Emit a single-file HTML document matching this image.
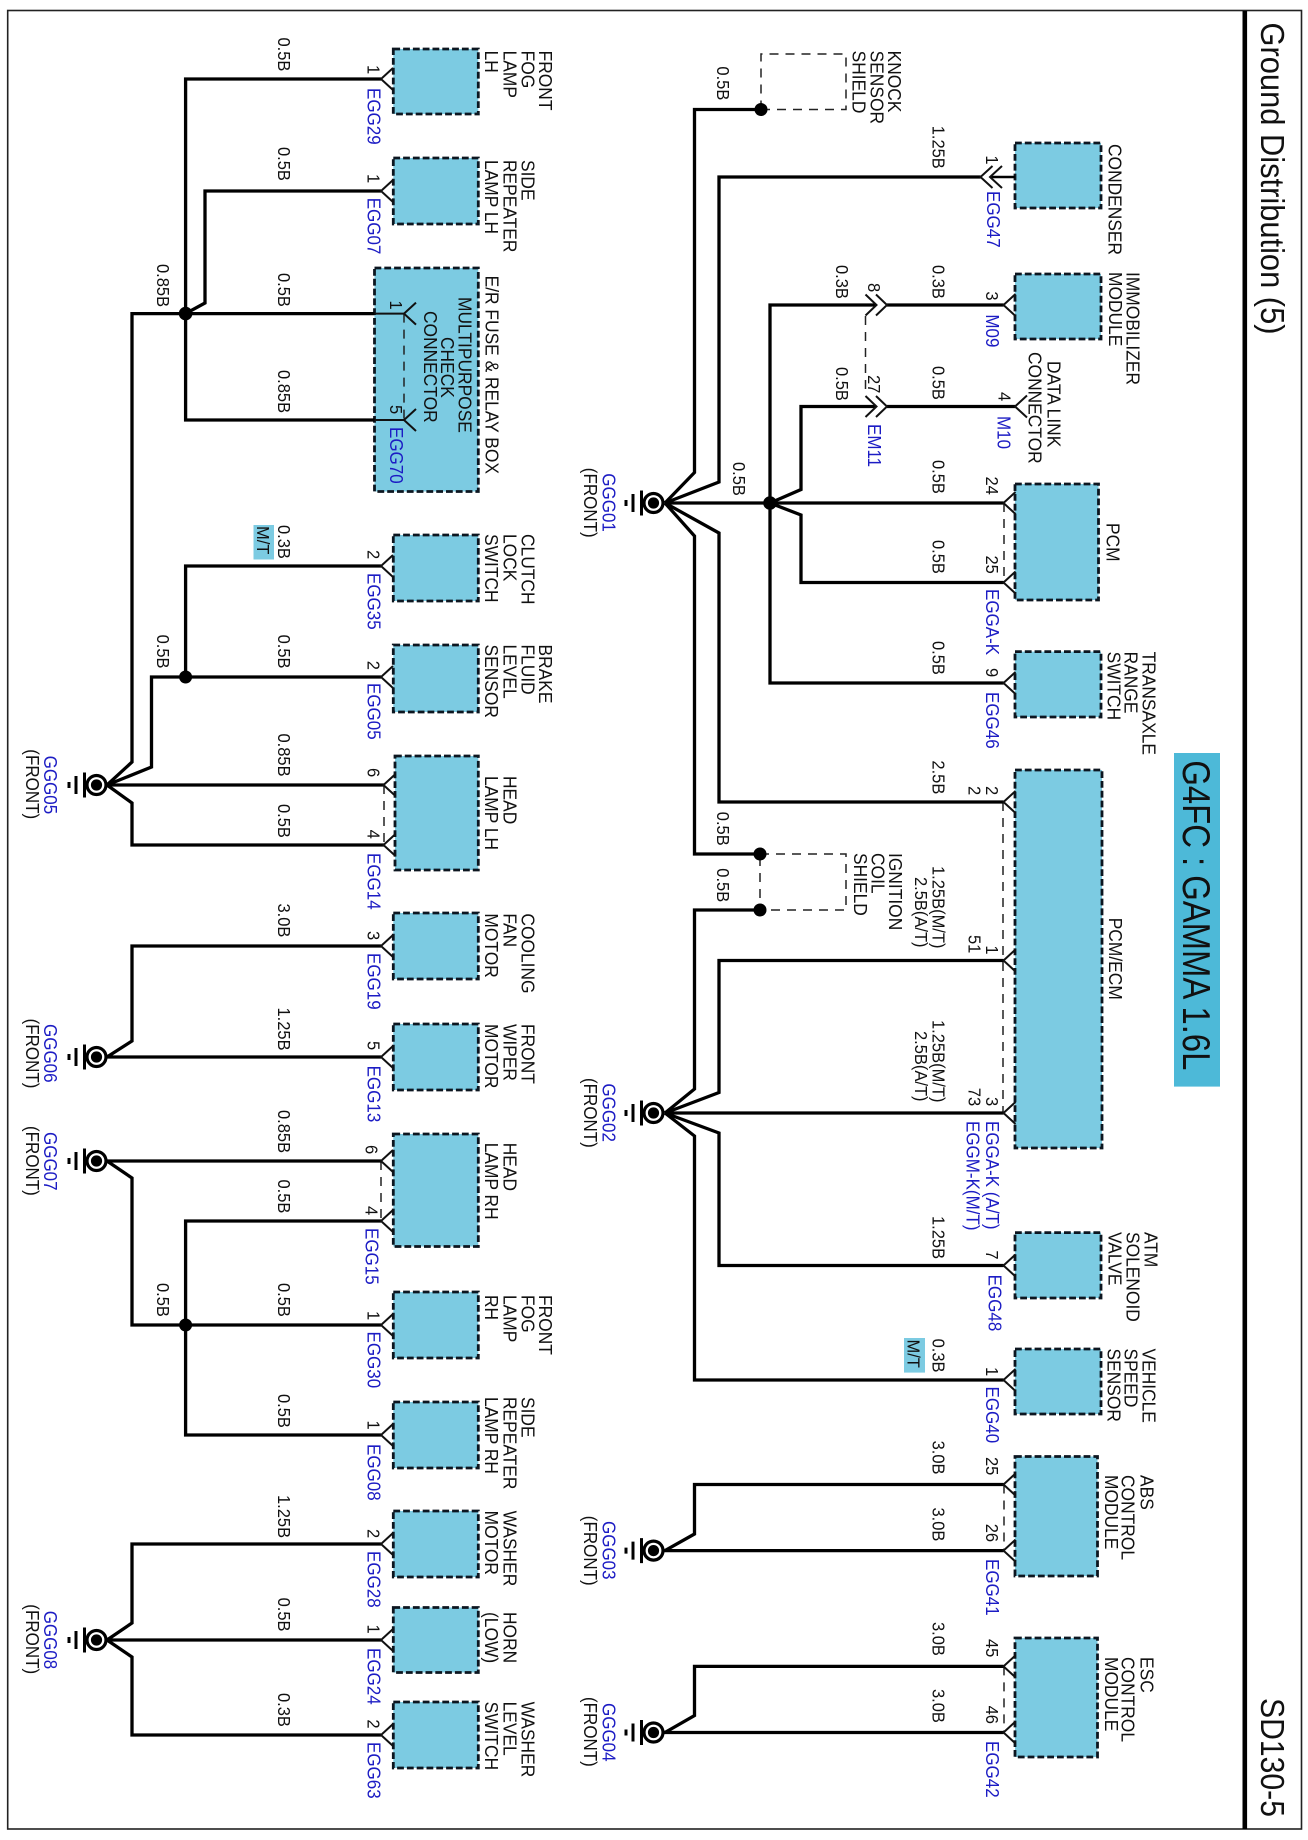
<!DOCTYPE html>
<html><head><meta charset="utf-8"><title>Ground Distribution (5)</title>
<style>
html,body{margin:0;padding:0;background:#fff}
svg{display:block}
text{font-family:"Liberation Sans",Arial,sans-serif;fill:#111}
.w{font-size:16.5px}
.p{font-size:16.5px}
.n{font-size:17.4px}
.b{font-size:17px;fill:#1c1cc4}
.f{font-size:17px}
.box{fill:#7ccbe2;stroke:#0c1620;stroke-width:2.8;stroke-dasharray:6.8 3}
.wire{fill:none;stroke:#000;stroke-width:3.3;stroke-linejoin:miter}
.thin{fill:none;stroke:#111;stroke-width:2}
.dash{fill:none;stroke:#222;stroke-width:1.5;stroke-dasharray:9 7}
</style></head><body>
<svg xmlns="http://www.w3.org/2000/svg" width="1308" height="1840" viewBox="0 0 1308 1840">
<defs>
<path id="t" class="thin" d="M12 -11L0 0L12 11"/>
<path id="c" class="thin" d="M-11 -10.5L0 0L-11 10.5"/>
<g id="g"><circle r="9.5" fill="#fff" stroke="#000" stroke-width="3.2"/><circle r="5.6" fill="#000"/>
<path d="M-12 -12.5V12.5M-20.5 -9V9M-27.5 -3V3" stroke="#000" stroke-width="3" fill="none"/></g>
</defs>
<rect width="1308" height="1840" fill="#fff"/>
<rect x="7.7" y="10.5" width="1293.8" height="1818.5" fill="none" stroke="#222" stroke-width="1.6"/>
<rect x="1242.5" y="11" width="4.6" height="1818" fill="#000"/>

<!-- boxes -->
<rect class="box" x="393.3" y="49" width="85" height="65"/>
<rect class="box" x="393.3" y="158" width="85" height="66"/>
<rect class="box" x="374.5" y="268" width="103.8" height="223.5"/>
<rect class="box" x="393.3" y="535" width="85" height="66"/>
<rect class="box" x="393.3" y="645" width="85" height="67"/>
<rect class="box" x="395" y="756" width="83.3" height="114"/>
<rect class="box" x="393.3" y="913" width="85" height="66"/>
<rect class="box" x="393.3" y="1024" width="85" height="66"/>
<rect class="box" x="393.3" y="1134" width="85" height="112.5"/>
<rect class="box" x="393.3" y="1292" width="85" height="66"/>
<rect class="box" x="393.3" y="1402" width="85" height="66"/>
<rect class="box" x="393.3" y="1511" width="85" height="66"/>
<rect class="box" x="393.3" y="1607.5" width="85" height="65"/>
<rect class="box" x="393.3" y="1702" width="85" height="66"/>
<rect class="box" x="1015" y="143" width="86" height="65"/>
<rect class="box" x="1015" y="274" width="86" height="65"/>
<rect class="box" x="1015" y="484" width="83.5" height="116"/>
<rect class="box" x="1015" y="651.6" width="86" height="65.4"/>
<rect class="box" x="1015" y="770" width="87" height="378"/>
<rect class="box" x="1015" y="1232.6" width="86" height="65.4"/>
<rect class="box" x="1015" y="1349" width="86" height="65"/>
<rect class="box" x="1015" y="1456.5" width="82.5" height="119.5"/>
<rect class="box" x="1015" y="1638" width="82.5" height="119"/>

<!-- badges -->
<rect x="1174" y="753" width="46" height="333.6" fill="#4db9d8"/>
<rect x="253.5" y="525" width="20.5" height="34.5" fill="#7ccbe2"/>
<rect x="904" y="1338" width="21" height="34.6" fill="#7ccbe2"/>

<!-- dashed -->
<path class="dash" d="M404 313.6V420M384 785V845M381 1161V1221"/>
<path class="dash" d="M761 109.5V54H846V109.5H761"/>
<path class="dash" d="M760 854H846V910H760V854"/>
<path class="dash" d="M865.5 316V395M1004 503V582.5M1003 802V1113M1004 1484.5V1550.6M1004 1666.4V1732.5"/>

<!-- wires left -->
<path class="wire" d="M381 79H185.6V420H374.5"/>
<path class="wire" d="M381 191H205V303L185.6 313.6"/>
<path class="wire" d="M374.5 313.6H132V762L107 785"/>
<path class="wire" d="M107 785L151.5 767V677H381"/>
<path class="wire" d="M107 785H384"/>
<path class="wire" d="M107 785L132 803V845H384"/>
<path class="wire" d="M381 566H185.6V677"/>
<path class="wire" d="M381 946H132V1041L107 1057H381"/>
<path class="wire" d="M107 1161H381"/>
<path class="wire" d="M107 1161L132 1178V1325H381"/>
<path class="wire" d="M381 1221H185.6V1435H381"/>
<path class="wire" d="M381 1544H132V1623L107 1640H381"/>
<path class="wire" d="M107 1640L132 1657V1735H381"/>
<!-- wires right -->
<path class="wire" d="M665 503L694.5 472.5V109.5H761"/>
<path class="wire" d="M665 503L719 482V177H980.5"/>
<path class="wire" d="M665 503H1003.5"/>
<path class="wire" d="M665 503L694.5 536V854H760"/>
<path class="wire" d="M665 503L719 533V802H1003.5"/>
<path class="wire" d="M876 305H770V683H1003.5"/>
<path class="wire" d="M887 305H1003.5"/>
<path class="wire" d="M770 503L801 489.5V406.5H876"/>
<path class="wire" d="M887 406.5H1015"/>
<path class="wire" d="M770 503L801 515V582.5H1003.5"/>
<path class="wire" d="M665 1113L694.5 1089V910H760"/>
<path class="wire" d="M665 1113L719 1092.5V960.5H1003.5"/>
<path class="wire" d="M665 1113H1003.5"/>
<path class="wire" d="M665 1113L694.5 1136V1380H1003.5"/>
<path class="wire" d="M665 1113L719 1133V1265.5H1003.5"/>
<path class="wire" d="M1003.5 1484.5H694.5V1534L665 1550.6H1003.5"/>
<path class="wire" d="M1003.5 1666.4H694.5V1715.5L665 1732.5H1003.5"/>
<path class="wire" d="M990 177H1015" style="stroke-width:2.4"/>
<path class="thin" d="M374.5 313.6H404M374.5 420H404"/>

<!-- connector marks -->
<use href="#t" x="381" y="79"/><use href="#t" x="381" y="191"/><use href="#t" x="381" y="566"/><use href="#t" x="381" y="677"/>
<use href="#t" x="383.5" y="785"/><use href="#t" x="383.5" y="845"/><use href="#t" x="381" y="946"/><use href="#t" x="381" y="1057"/>
<use href="#t" x="381" y="1161"/><use href="#t" x="381" y="1221"/><use href="#t" x="381" y="1325"/><use href="#t" x="381" y="1435"/>
<use href="#t" x="381" y="1544"/><use href="#t" x="381" y="1640"/><use href="#t" x="381" y="1735"/>
<use href="#t" x="404" y="313.6"/><use href="#t" x="404" y="420"/>
<use href="#t" x="980.5" y="177"/><use href="#t" x="990" y="177"/>
<use href="#c" x="876.5" y="305"/><use href="#c" x="887" y="305"/><use href="#c" x="876.5" y="406.5"/><use href="#c" x="887" y="406.5"/>
<use href="#t" x="1003.5" y="305"/><use href="#t" x="1015" y="406.5"/>
<use href="#t" x="1003.5" y="503"/><use href="#t" x="1003.5" y="582.5"/><use href="#t" x="1003.5" y="683"/>
<use href="#t" x="1003.5" y="802"/><use href="#t" x="1003.5" y="960.5"/><use href="#t" x="1003.5" y="1113"/>
<use href="#t" x="1003.5" y="1265.5"/><use href="#t" x="1003.5" y="1380"/><use href="#t" x="1003.5" y="1484.5"/><use href="#t" x="1003.5" y="1550.6"/>
<use href="#t" x="1003.5" y="1666.4"/><use href="#t" x="1003.5" y="1732.5"/>

<!-- junctions -->
<circle cx="185.6" cy="313.6" r="6.8"/><circle cx="185.6" cy="677" r="6.5"/><circle cx="185.6" cy="1325" r="6.5"/>
<circle cx="761" cy="109.5" r="6.5"/><circle cx="770" cy="503" r="6.8"/><circle cx="760" cy="854" r="6.5"/><circle cx="760" cy="910" r="6.5"/>

<!-- grounds -->
<use href="#g" x="96.5" y="785"/><use href="#g" x="96.5" y="1057"/><use href="#g" x="96.5" y="1161"/><use href="#g" x="96.5" y="1640"/>
<use href="#g" x="653.5" y="503"/><use href="#g" x="653.5" y="1113"/><use href="#g" x="653.5" y="1550.6"/><use href="#g" x="653.5" y="1732.5"/>

<!-- titles -->
<text transform="translate(1261 22.5)rotate(90)" style="font-size:33px" textLength="312" lengthAdjust="spacingAndGlyphs">Ground Distribution (5)</text>
<text transform="translate(1261 1698)rotate(90)" style="font-size:33px" textLength="119" lengthAdjust="spacingAndGlyphs">SD130-5</text>
<text transform="translate(1183 760.4)rotate(90)" style="font-size:39px" textLength="310" lengthAdjust="spacingAndGlyphs">G4FC : GAMMA 1.6L</text>

<g transform="translate(0.7 0)">
<!-- wire sizes left -->
<text class="w" transform="translate(277.3 37.5)rotate(90)scale(1 1.08)">0.5B</text>
<text class="w" transform="translate(277.3 147)rotate(90)scale(1 1.08)">0.5B</text>
<text class="w" transform="translate(277.3 273)rotate(90)scale(1 1.08)">0.5B</text>
<text class="w" transform="translate(277.3 370)rotate(90)scale(1 1.08)">0.85B</text>
<text class="w" transform="translate(277.3 525)rotate(90)scale(1 1.08)">0.3B</text>
<text class="w" transform="translate(256.5 526)rotate(90)scale(1 1.08)">M/T</text>
<text class="w" transform="translate(156.4 264)rotate(90)scale(1 1.08)">0.85B</text>
<text class="w" transform="translate(156.4 634.6)rotate(90)scale(1 1.08)">0.5B</text>
<text class="w" transform="translate(277.3 634.6)rotate(90)scale(1 1.08)">0.5B</text>
<text class="w" transform="translate(277.3 733.5)rotate(90)scale(1 1.08)">0.85B</text>
<text class="w" transform="translate(277.3 804)rotate(90)scale(1 1.08)">0.5B</text>
<text class="w" transform="translate(277.3 903.5)rotate(90)scale(1 1.08)">3.0B</text>
<text class="w" transform="translate(277.3 1007.5)rotate(90)scale(1 1.08)">1.25B</text>
<text class="w" transform="translate(277.3 1110)rotate(90)scale(1 1.08)">0.85B</text>
<text class="w" transform="translate(277.3 1179.5)rotate(90)scale(1 1.08)">0.5B</text>
<text class="w" transform="translate(156.4 1283)rotate(90)scale(1 1.08)">0.5B</text>
<text class="w" transform="translate(277.3 1283)rotate(90)scale(1 1.08)">0.5B</text>
<text class="w" transform="translate(277.3 1394)rotate(90)scale(1 1.08)">0.5B</text>
<text class="w" transform="translate(277.3 1495)rotate(90)scale(1 1.08)">1.25B</text>
<text class="w" transform="translate(277.3 1597.6)rotate(90)scale(1 1.08)">0.5B</text>
<text class="w" transform="translate(277.3 1693)rotate(90)scale(1 1.08)">0.3B</text>
</g>

<g transform="translate(1.3 0)">
<!-- pins left -->
<text class="p" transform="translate(366 65)rotate(90)scale(1 1.08)">1</text>
<text class="p" transform="translate(366 174)rotate(90)scale(1 1.08)">1</text>
<text class="p" transform="translate(388.6 300.5)rotate(90)scale(1 1.08)">1</text>
<text class="p" transform="translate(388.6 405)rotate(90)scale(1 1.08)">5</text>
<text class="p" transform="translate(366 550)rotate(90)scale(1 1.08)">2</text>
<text class="p" transform="translate(366 660.7)rotate(90)scale(1 1.08)">2</text>
<text class="p" transform="translate(366 768)rotate(90)scale(1 1.08)">6</text>
<text class="p" transform="translate(366 829.6)rotate(90)scale(1 1.08)">4</text>
<text class="p" transform="translate(366 931)rotate(90)scale(1 1.08)">3</text>
<text class="p" transform="translate(366 1041)rotate(90)scale(1 1.08)">5</text>
<text class="p" transform="translate(364 1145)rotate(90)scale(1 1.08)">6</text>
<text class="p" transform="translate(364 1206)rotate(90)scale(1 1.08)">4</text>
<text class="p" transform="translate(366 1311)rotate(90)scale(1 1.08)">1</text>
<text class="p" transform="translate(366 1420.5)rotate(90)scale(1 1.08)">1</text>
<text class="p" transform="translate(366 1529)rotate(90)scale(1 1.08)">2</text>
<text class="p" transform="translate(366 1624.5)rotate(90)scale(1 1.08)">1</text>
<text class="p" transform="translate(366 1719.4)rotate(90)scale(1 1.08)">2</text>

<!-- blue left -->
<text class="b" transform="translate(366 88)rotate(90)scale(1 1.08)">EGG29</text>
<text class="b" transform="translate(366 197.7)rotate(90)scale(1 1.08)">EGG07</text>
<text class="b" transform="translate(388.6 427)rotate(90)scale(1 1.08)">EGG70</text>
<text class="b" transform="translate(366 573)rotate(90)scale(1 1.08)">EGG35</text>
<text class="b" transform="translate(366 683)rotate(90)scale(1 1.08)">EGG05</text>
<text class="b" transform="translate(366 853)rotate(90)scale(1 1.08)">EGG14</text>
<text class="b" transform="translate(366 953)rotate(90)scale(1 1.08)">EGG19</text>
<text class="b" transform="translate(366 1065.6)rotate(90)scale(1 1.08)">EGG13</text>
<text class="b" transform="translate(364 1228)rotate(90)scale(1 1.08)">EGG15</text>
<text class="b" transform="translate(366 1331.5)rotate(90)scale(1 1.08)">EGG30</text>
<text class="b" transform="translate(366 1444)rotate(90)scale(1 1.08)">EGG08</text>
<text class="b" transform="translate(366 1551)rotate(90)scale(1 1.08)">EGG28</text>
<text class="b" transform="translate(366 1648)rotate(90)scale(1 1.08)">EGG24</text>
<text class="b" transform="translate(366 1742)rotate(90)scale(1 1.08)">EGG63</text>
</g>

<g transform="translate(0.8 0)">
<!-- names left -->
<text class="n" transform="translate(538 50.6)rotate(90)scale(1 1.08)">FRONT</text>
<text class="n" transform="translate(520.5 50.6)rotate(90)scale(1 1.08)">FOG</text>
<text class="n" transform="translate(502.5 50.6)rotate(90)scale(1 1.08)">LAMP</text>
<text class="n" transform="translate(484 50.6)rotate(90)scale(1 1.08)">LH</text>
<text class="n" transform="translate(520.5 160)rotate(90)scale(1 1.08)">SIDE</text>
<text class="n" transform="translate(502.5 160)rotate(90)scale(1 1.08)">REPEATER</text>
<text class="n" transform="translate(484 160)rotate(90)scale(1 1.08)">LAMP LH</text>
<text class="n" transform="translate(484.6 275.6)rotate(90)scale(1 1.08)">E/R FUSE &amp; RELAY BOX</text>
<text class="n" transform="translate(457.5 297)rotate(90)scale(1 1.08)">MULTIPURPOSE</text>
<text class="n" transform="translate(440 337)rotate(90)scale(1 1.08)">CHECK</text>
<text class="n" transform="translate(423 311)rotate(90)scale(1 1.08)">CONNECTOR</text>
<text class="n" transform="translate(520.5 534)rotate(90)scale(1 1.08)">CLUTCH</text>
<text class="n" transform="translate(502.5 534)rotate(90)scale(1 1.08)">LOCK</text>
<text class="n" transform="translate(484 534)rotate(90)scale(1 1.08)">SWITCH</text>
<text class="n" transform="translate(538 644.5)rotate(90)scale(1 1.08)">BRAKE</text>
<text class="n" transform="translate(520.5 644.5)rotate(90)scale(1 1.08)">FLUID</text>
<text class="n" transform="translate(502.5 644.5)rotate(90)scale(1 1.08)">LEVEL</text>
<text class="n" transform="translate(484 644.5)rotate(90)scale(1 1.08)">SENSOR</text>
<text class="n" transform="translate(502.5 776)rotate(90)scale(1 1.08)">HEAD</text>
<text class="n" transform="translate(484 776)rotate(90)scale(1 1.08)">LAMP LH</text>
<text class="n" transform="translate(520.5 913.4)rotate(90)scale(1 1.08)">COOLING</text>
<text class="n" transform="translate(502.5 913.4)rotate(90)scale(1 1.08)">FAN</text>
<text class="n" transform="translate(484 913.4)rotate(90)scale(1 1.08)">MOTOR</text>
<text class="n" transform="translate(520.5 1024)rotate(90)scale(1 1.08)">FRONT</text>
<text class="n" transform="translate(502.5 1024)rotate(90)scale(1 1.08)">WIPER</text>
<text class="n" transform="translate(484 1024)rotate(90)scale(1 1.08)">MOTOR</text>
<text class="n" transform="translate(502.5 1142.7)rotate(90)scale(1 1.08)">HEAD</text>
<text class="n" transform="translate(484 1142.7)rotate(90)scale(1 1.08)">LAMP RH</text>
<text class="n" transform="translate(538 1295)rotate(90)scale(1 1.08)">FRONT</text>
<text class="n" transform="translate(520.5 1295)rotate(90)scale(1 1.08)">FOG</text>
<text class="n" transform="translate(502.5 1295)rotate(90)scale(1 1.08)">LAMP</text>
<text class="n" transform="translate(484 1295)rotate(90)scale(1 1.08)">RH</text>
<text class="n" transform="translate(520.5 1397)rotate(90)scale(1 1.08)">SIDE</text>
<text class="n" transform="translate(502.5 1397)rotate(90)scale(1 1.08)">REPEATER</text>
<text class="n" transform="translate(484 1397)rotate(90)scale(1 1.08)">LAMP RH</text>
<text class="n" transform="translate(502.5 1510.6)rotate(90)scale(1 1.08)">WASHER</text>
<text class="n" transform="translate(484 1510.6)rotate(90)scale(1 1.08)">MOTOR</text>
<text class="n" transform="translate(502.5 1612)rotate(90)scale(1 1.08)">HORN</text>
<text class="n" transform="translate(484 1612)rotate(90)scale(1 1.08)">(LOW)</text>
<text class="n" transform="translate(520.5 1701.6)rotate(90)scale(1 1.08)">WASHER</text>
<text class="n" transform="translate(502.5 1701.6)rotate(90)scale(1 1.08)">LEVEL</text>
<text class="n" transform="translate(484 1701.6)rotate(90)scale(1 1.08)">SWITCH</text>
</g>

<!-- ground labels -->
<text class="b" transform="translate(44 755.6)rotate(90)scale(1 1.08)">GGG05</text>
<text class="f" transform="translate(26 749.3)rotate(90)scale(1 1.08)">(FRONT)</text>
<text class="b" transform="translate(44 1024)rotate(90)scale(1 1.08)">GGG06</text>
<text class="f" transform="translate(26 1018.6)rotate(90)scale(1 1.08)">(FRONT)</text>
<text class="b" transform="translate(44 1132)rotate(90)scale(1 1.08)">GGG07</text>
<text class="f" transform="translate(26 1126)rotate(90)scale(1 1.08)">(FRONT)</text>
<text class="b" transform="translate(44 1610.7)rotate(90)scale(1 1.08)">GGG08</text>
<text class="f" transform="translate(26 1604.3)rotate(90)scale(1 1.08)">(FRONT)</text>
<text class="b" transform="translate(602.6 473.3)rotate(90)scale(1 1.08)">GGG01</text>
<text class="f" transform="translate(584 467.8)rotate(90)scale(1 1.08)">(FRONT)</text>
<text class="b" transform="translate(602.6 1083.4)rotate(90)scale(1 1.08)">GGG02</text>
<text class="f" transform="translate(584 1078)rotate(90)scale(1 1.08)">(FRONT)</text>
<text class="b" transform="translate(602.6 1521)rotate(90)scale(1 1.08)">GGG03</text>
<text class="f" transform="translate(584 1515.8)rotate(90)scale(1 1.08)">(FRONT)</text>
<text class="b" transform="translate(602.6 1703)rotate(90)scale(1 1.08)">GGG04</text>
<text class="f" transform="translate(584 1697)rotate(90)scale(1 1.08)">(FRONT)</text>

<g transform="translate(0.5 0)">
<!-- wire sizes right -->
<text class="w" transform="translate(716.6 66.4)rotate(90)scale(1 1.08)">0.5B</text>
<text class="w" transform="translate(932 125.7)rotate(90)scale(1 1.08)">1.25B</text>
<text class="w" transform="translate(835.4 265)rotate(90)scale(1 1.08)">0.3B</text>
<text class="w" transform="translate(932 265)rotate(90)scale(1 1.08)">0.3B</text>
<text class="w" transform="translate(835.4 367)rotate(90)scale(1 1.08)">0.5B</text>
<text class="w" transform="translate(932 366)rotate(90)scale(1 1.08)">0.5B</text>
<text class="w" transform="translate(732.4 462)rotate(90)scale(1 1.08)">0.5B</text>
<text class="w" transform="translate(932 460)rotate(90)scale(1 1.08)">0.5B</text>
<text class="w" transform="translate(932 540)rotate(90)scale(1 1.08)">0.5B</text>
<text class="w" transform="translate(932 641)rotate(90)scale(1 1.08)">0.5B</text>
<text class="w" transform="translate(932 760.4)rotate(90)scale(1 1.08)">2.5B</text>
<text class="w" transform="translate(716.6 811.8)rotate(90)scale(1 1.08)">0.5B</text>
<text class="w" transform="translate(716.6 868.3)rotate(90)scale(1 1.08)">0.5B</text>
<text class="w" transform="translate(932 866)rotate(90)scale(1 1.08)">1.25B(M/T)</text>
<text class="w" transform="translate(914.6 877)rotate(90)scale(1 1.08)">2.5B(A/T)</text>
<text class="w" transform="translate(932 1020)rotate(90)scale(1 1.08)">1.25B(M/T)</text>
<text class="w" transform="translate(914.6 1031)rotate(90)scale(1 1.08)">2.5B(A/T)</text>
<text class="w" transform="translate(932 1216)rotate(90)scale(1 1.08)">1.25B</text>
<text class="w" transform="translate(932 1338.6)rotate(90)scale(1 1.08)">0.3B</text>
<text class="w" transform="translate(907 1339.5)rotate(90)scale(1 1.08)">M/T</text>
<text class="w" transform="translate(932 1440.6)rotate(90)scale(1 1.08)">3.0B</text>
<text class="w" transform="translate(932 1507.5)rotate(90)scale(1 1.08)">3.0B</text>
<text class="w" transform="translate(932 1622)rotate(90)scale(1 1.08)">3.0B</text>
<text class="w" transform="translate(932 1689)rotate(90)scale(1 1.08)">3.0B</text>
</g>

<g transform="translate(0.7 0)">
<!-- pins right -->
<text class="p" transform="translate(985.5 155.4)rotate(90)scale(1 1.08)">1</text>
<text class="p" transform="translate(985.5 291.4)rotate(90)scale(1 1.08)">3</text>
<text class="p" transform="translate(998 392)rotate(90)scale(1 1.08)">4</text>
<text class="p" transform="translate(867.5 283)rotate(90)scale(1 1.08)">8</text>
<text class="p" transform="translate(867.5 375)rotate(90)scale(1 1.08)">27</text>
<text class="p" transform="translate(985.5 476.5)rotate(90)scale(1 1.08)">24</text>
<text class="p" transform="translate(985.5 555.5)rotate(90)scale(1 1.08)">25</text>
<text class="p" transform="translate(985.5 668)rotate(90)scale(1 1.08)">9</text>
<text class="p" transform="translate(985.5 786)rotate(90)scale(1 1.08)">2</text>
<text class="p" transform="translate(967.6 786)rotate(90)scale(1 1.08)">2</text>
<text class="p" transform="translate(985.5 945.4)rotate(90)scale(1 1.08)">1</text>
<text class="p" transform="translate(967.6 935)rotate(90)scale(1 1.08)">51</text>
<text class="p" transform="translate(985.5 1097)rotate(90)scale(1 1.08)">3</text>
<text class="p" transform="translate(967.6 1087.8)rotate(90)scale(1 1.08)">73</text>
<text class="p" transform="translate(985.5 1250.4)rotate(90)scale(1 1.08)">7</text>
<text class="p" transform="translate(985.5 1367)rotate(90)scale(1 1.08)">1</text>
<text class="p" transform="translate(985.5 1457)rotate(90)scale(1 1.08)">25</text>
<text class="p" transform="translate(985.5 1523.7)rotate(90)scale(1 1.08)">26</text>
<text class="p" transform="translate(985.5 1639)rotate(90)scale(1 1.08)">45</text>
<text class="p" transform="translate(985.5 1705.6)rotate(90)scale(1 1.08)">46</text>

<!-- blue right -->
<text class="b" transform="translate(986.4 191)rotate(90)scale(1 1.08)">EGG47</text>
<text class="b" transform="translate(985.5 314.4)rotate(90)scale(1 1.08)">M09</text>
<text class="b" transform="translate(997 416)rotate(90)scale(1 1.08)">M10</text>
<text class="b" transform="translate(867.5 424)rotate(90)scale(1 1.08)">EM11</text>
<text class="b" transform="translate(985.5 589)rotate(90)scale(1 1.08)">EGGA-K</text>
<text class="b" transform="translate(985.5 692)rotate(90)scale(1 1.08)">EGG46</text>
<text class="b" transform="translate(985.5 1121)rotate(90)scale(1 1.08)">EGGA-K (A/T)</text>
<text class="b" transform="translate(966 1121)rotate(90)scale(1 1.08)">EGGM-K(M/T)</text>
<text class="b" transform="translate(987.6 1274.6)rotate(90)scale(1 1.08)">EGG48</text>
<text class="b" transform="translate(985.5 1386.5)rotate(90)scale(1 1.08)">EGG40</text>
<text class="b" transform="translate(985.5 1559)rotate(90)scale(1 1.08)">EGG41</text>
<text class="b" transform="translate(985.5 1741)rotate(90)scale(1 1.08)">EGG42</text>

<!-- names right -->
<text class="n" transform="translate(887.5 50.6)rotate(90)scale(1 1.08)">KNOCK</text>
<text class="n" transform="translate(870 50.6)rotate(90)scale(1 1.08)">SENSOR</text>
<text class="n" transform="translate(852 50.6)rotate(90)scale(1 1.08)">SHIELD</text>
<text class="n" transform="translate(1107.7 144)rotate(90)scale(1 1.08)">CONDENSER</text>
<text class="n" transform="translate(1126 272)rotate(90)scale(1 1.08)">IMMOBILIZER</text>
<text class="n" transform="translate(1108.5 272)rotate(90)scale(1 1.08)">MODULE</text>
<text class="n" transform="translate(1047 361)rotate(90)scale(1 1.08)">DATA LINK</text>
<text class="n" transform="translate(1028 352)rotate(90)scale(1 1.08)">CONNECTOR</text>
<text class="n" transform="translate(1105.6 523)rotate(90)scale(1 1.08)">PCM</text>
<text class="n" transform="translate(1142 651.6)rotate(90)scale(1 1.08)">TRANSAXLE</text>
<text class="n" transform="translate(1124 651.6)rotate(90)scale(1 1.08)">RANGE</text>
<text class="n" transform="translate(1107 651.6)rotate(90)scale(1 1.08)">SWITCH</text>
<text class="n" transform="translate(1108.5 917.7)rotate(90)scale(1 1.08)">PCM/ECM</text>
<text class="n" transform="translate(888.4 853)rotate(90)scale(1 1.08)">IGNITION</text>
<text class="n" transform="translate(871 853)rotate(90)scale(1 1.08)">COIL</text>
<text class="n" transform="translate(853.3 853)rotate(90)scale(1 1.08)">SHIELD</text>
<text class="n" transform="translate(1144 1232)rotate(90)scale(1 1.08)">ATM</text>
<text class="n" transform="translate(1126 1232)rotate(90)scale(1 1.08)">SOLENOID</text>
<text class="n" transform="translate(1107.7 1232)rotate(90)scale(1 1.08)">VALVE</text>
<text class="n" transform="translate(1142 1348.5)rotate(90)scale(1 1.08)">VEHICLE</text>
<text class="n" transform="translate(1124 1348.5)rotate(90)scale(1 1.08)">SPEED</text>
<text class="n" transform="translate(1107 1348.5)rotate(90)scale(1 1.08)">SENSOR</text>
<text class="n" transform="translate(1140 1475)rotate(90)scale(1 1.08)">ABS</text>
<text class="n" transform="translate(1121 1475)rotate(90)scale(1 1.08)">CONTROL</text>
<text class="n" transform="translate(1104.4 1475)rotate(90)scale(1 1.08)">MODULE</text>
<text class="n" transform="translate(1140 1657)rotate(90)scale(1 1.08)">ESC</text>
<text class="n" transform="translate(1121 1657)rotate(90)scale(1 1.08)">CONTROL</text>
<text class="n" transform="translate(1104.4 1657)rotate(90)scale(1 1.08)">MODULE</text>
</g>
</svg>
</body></html>
